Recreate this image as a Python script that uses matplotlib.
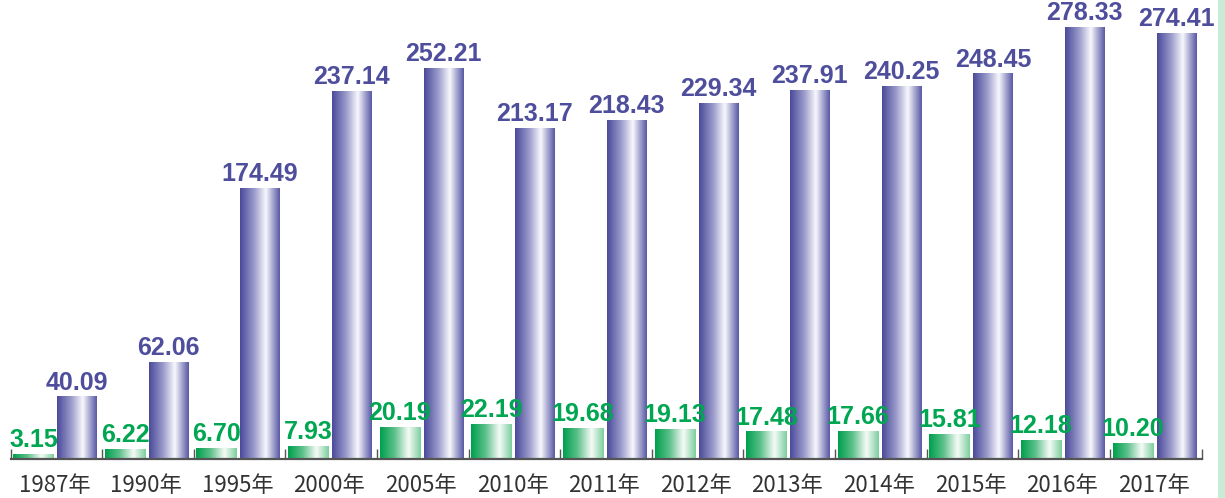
import numpy as np
import matplotlib.pyplot as plt
from matplotlib.colors import LinearSegmentedColormap
from matplotlib.patches import Rectangle

plt.rcParams['font.family'] = ['Noto Sans CJK SC', 'DejaVu Sans']

years = ['1987年', '1990年', '1995年', '2000年', '2005年', '2010年', '2011年',
         '2012年', '2013年', '2014年', '2015年', '2016年', '2017年']
green_vals = [3.15, 6.22, 6.70, 7.93, 20.19, 22.19, 19.68, 19.13, 17.48, 17.66, 15.81, 12.18, 10.20]
purple_vals = [40.09, 62.06, 174.49, 237.14, 252.21, 213.17, 218.43, 229.34, 237.91, 240.25,
               248.45, 278.33, 274.41]

purple_txt = '#4e4e9c'
green_txt = '#00a651'

purple_cmap = LinearSegmentedColormap.from_list(
    'pg', [(0, '#4b4b9b'), (0.35, '#9a9acb'), (0.65, '#f7f7fc'), (1.0, '#5a5aa6')])
green_cmap = LinearSegmentedColormap.from_list(
    'gg', [(0, '#00a04e'), (0.35, '#5cc08a'), (0.7, '#f6fbf7'), (1.0, '#7fcfa0')])

W, H = 1225, 498
fig = plt.figure(figsize=(W / 100, H / 100), dpi=100)
ax = fig.add_axes([10.5 / W, 39 / H, 1191 / W, 459 / H])

grad = np.linspace(0, 1, 64).reshape(1, -1)


def grad_bar(x0, width, h, cmap):
    ax.imshow(grad, cmap=cmap, extent=(x0, x0 + width, 0, h), aspect='auto',
              interpolation='bilinear', zorder=2)


n = len(years)
for i in range(n):
    grad_bar(i + 0.03, 0.44, green_vals[i], green_cmap)
    grad_bar(i + 0.51, 0.43, purple_vals[i], purple_cmap)
    ax.text(i + 0.25, green_vals[i] + 1.5, '%.2f' % green_vals[i], ha='center', va='bottom',
            fontsize=18, fontweight='bold', color=green_txt, family='Liberation Sans', zorder=3)
    ax.text(i + 0.725, purple_vals[i] + 1.5, '%.2f' % purple_vals[i], ha='center', va='bottom',
            fontsize=18, fontweight='bold', color=purple_txt, family='Liberation Sans', zorder=3)

ax.set_xlim(0, n)
ax.set_ylim(0, 459 / 1.55)

for s in ['top', 'right', 'left']:
    ax.spines[s].set_visible(False)
ax.spines['bottom'].set_color('#555555')
ax.spines['bottom'].set_linewidth(1.6)
ax.set_yticks([])

ax.set_xticks(np.arange(n + 1))
ax.set_xticks(np.arange(n) + 0.48, minor=True)
ax.set_xticklabels([])
ax.set_xticklabels(years, minor=True, fontsize=16, color='#333333')
ax.tick_params(axis='x', which='major', direction='in', length=7, width=1, color='#555555')
ax.tick_params(axis='x', which='minor', length=0, pad=11)

fig.patches.append(Rectangle((1218 / W, 0), 7 / W, 1, transform=fig.transFigure,
                             facecolor='#c9ecd7', edgecolor='none'))

fig.savefig('out.png', dpi=100)
